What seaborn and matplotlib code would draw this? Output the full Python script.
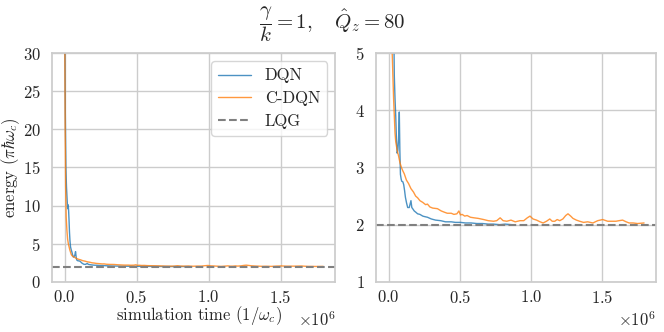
import numpy as np
import pandas as pd
import matplotlib
matplotlib.use("Agg")
import matplotlib.pyplot as plt
import seaborn as sns

# simulation time in units of 1e6 / omega_c
dqn_t = [0, 0.004, 0.008, 0.012, 0.016, 0.02, 0.024, 0.027, 0.03, 0.033, 0.036,
         0.04, 0.045, 0.05, 0.055, 0.06, 0.065, 0.07, 0.075, 0.079, 0.083, 0.088,
         0.092, 0.1, 0.106, 0.112, 0.118, 0.126, 0.134, 0.145, 0.157, 0.163, 0.169,
         0.18, 0.19, 0.204, 0.22, 0.24, 0.255, 0.273, 0.3, 0.33, 0.366, 0.4, 0.44,
         0.47, 0.506, 0.54, 0.58, 0.62, 0.66, 0.7, 0.738, 0.78, 0.82, 0.866]
dqn_e = [34, 22, 15, 12.5, 11, 9.6, 10.1, 9.3, 8, 6.5, 5.5,
         4.6, 4.2, 3.9, 3.5, 3.25, 3.3, 3.5, 3.97, 3.3, 2.88, 2.8,
         2.76, 2.75, 2.7, 2.6, 2.48, 2.38, 2.3, 2.3, 2.42, 2.3, 2.28,
         2.24, 2.22, 2.19, 2.18, 2.15, 2.14, 2.13, 2.1, 2.08, 2.07, 2.05, 2.05,
         2.04, 2.04, 2.03, 2.03, 2.02, 2.02, 2.01, 2.01, 2.0, 2.01, 2.0]

cdqn_t = [0, 0.003, 0.006, 0.01, 0.015, 0.02, 0.025, 0.03, 0.035, 0.04, 0.045,
          0.05, 0.06, 0.07, 0.08, 0.09, 0.1, 0.11, 0.125, 0.14, 0.157, 0.175,
          0.19, 0.204, 0.22, 0.24, 0.26, 0.273, 0.29, 0.31, 0.343, 0.37, 0.39,
          0.412, 0.44, 0.459, 0.48, 0.494, 0.505, 0.517, 0.535, 0.552, 0.575,
          0.6, 0.63, 0.668, 0.7, 0.738, 0.76, 0.784, 0.805, 0.831, 0.86, 0.89,
          0.924, 0.95, 0.975, 0.994, 1.015, 1.04, 1.065, 1.086, 1.11, 1.133,
          1.15, 1.168, 1.185, 1.203, 1.225, 1.245, 1.261, 1.28, 1.296, 1.32,
          1.343, 1.37, 1.4, 1.436, 1.47, 1.505, 1.54, 1.57, 1.598, 1.62, 1.645,
          1.67, 1.691, 1.72, 1.75, 1.796]
cdqn_e = [34, 20, 12.5, 8.5, 6.8, 5.6, 5.0, 4.6, 4.2, 3.9, 3.6,
          3.45, 3.3, 3.2, 3.08, 3.0, 2.94, 2.89, 2.78, 2.72, 2.63, 2.57,
          2.5, 2.47, 2.42, 2.39, 2.35, 2.36, 2.31, 2.29, 2.28, 2.24, 2.22,
          2.2, 2.2, 2.18, 2.19, 2.24, 2.17, 2.18, 2.15, 2.16, 2.13,
          2.12, 2.11, 2.09, 2.07, 2.06, 2.07, 2.12, 2.07, 2.06, 2.08, 2.05,
          2.07, 2.07, 2.12, 2.15, 2.1, 2.08, 2.05, 2.03, 2.06, 2.1,
          2.06, 2.06, 2.09, 2.07, 2.1, 2.16, 2.19, 2.15, 2.11, 2.08,
          2.06, 2.04, 2.05, 2.03, 2.07, 2.09, 2.06, 2.06, 2.06, 2.07, 2.08,
          2.05, 2.03, 2.03, 2.02, 2.03]

lqg_energy = 2.0

df = pd.concat([
    pd.DataFrame({"time": np.array(dqn_t) * 1e6, "energy": dqn_e, "method": "DQN"}),
    pd.DataFrame({"time": np.array(cdqn_t) * 1e6, "energy": cdqn_e, "method": "C-DQN"}),
], ignore_index=True)

sns.set_theme(style="whitegrid")
plt.rcParams["font.family"] = "serif"
plt.rcParams["font.serif"] = ["cmr10", "DejaVu Serif"]
plt.rcParams["mathtext.fontset"] = "cm"
plt.rcParams["axes.formatter.use_mathtext"] = True
plt.rcParams["axes.unicode_minus"] = False

palette = {"DQN": "#1f77b4", "C-DQN": "#ff7f0e"}
fs = 12

fig = plt.figure(figsize=(6.64, 3.32), dpi=100)
ax1 = fig.add_axes([0.078, 0.151, 0.427, 0.689])
ax2 = fig.add_axes([0.566, 0.151, 0.422, 0.689])

for ax in (ax1, ax2):
    sns.lineplot(data=df, x="time", y="energy", hue="method", palette=palette,
                 estimator=None, linewidth=1.0, alpha=0.8, ax=ax)
    ax.axhline(lqg_energy, color="gray", linestyle="--", linewidth=1.5, label="LQG")
    ax.set_xlim(-0.09e6, 1.88e6)
    ax.set_xticks([0, 0.5e6, 1.0e6, 1.5e6])
    ax.tick_params(labelsize=fs, pad=2)
    ax.tick_params(axis="x", pad=-1)
    ax.xaxis.get_offset_text().set_fontsize(fs)
    for s in ax.spines.values():
        s.set_color("#cccccc")
    ax.set_ylabel("")
    ax.set_xlabel("")

ax1.set_ylim(0, 30)
ax1.set_yticks([0, 5, 10, 15, 20, 25, 30])
ax2.set_ylim(1, 5)
ax2.set_yticks([1, 2, 3, 4, 5])

ax1.set_xlabel(r"simulation time ($1/\omega_c$)", fontsize=fs, labelpad=-1)
ax1.xaxis.label.set_x(0.52)
ax1.set_ylabel(r"energy ($\pi\hbar\omega_c$)", fontsize=fs)
ax1.yaxis.set_label_coords(-0.104, 0.5)

h, l = ax1.get_legend_handles_labels()
ax1.legend(h, l, loc="upper right", fontsize=fs, frameon=True,
           borderaxespad=0.5, handlelength=2.0, labelspacing=0.45)
ax2.get_legend().remove()

fig.suptitle(r"$\dfrac{\gamma}{k}=1,\quad \hat{Q}_z=80$", fontsize=15, y=0.985)

fig.savefig("out.png", dpi=100)
